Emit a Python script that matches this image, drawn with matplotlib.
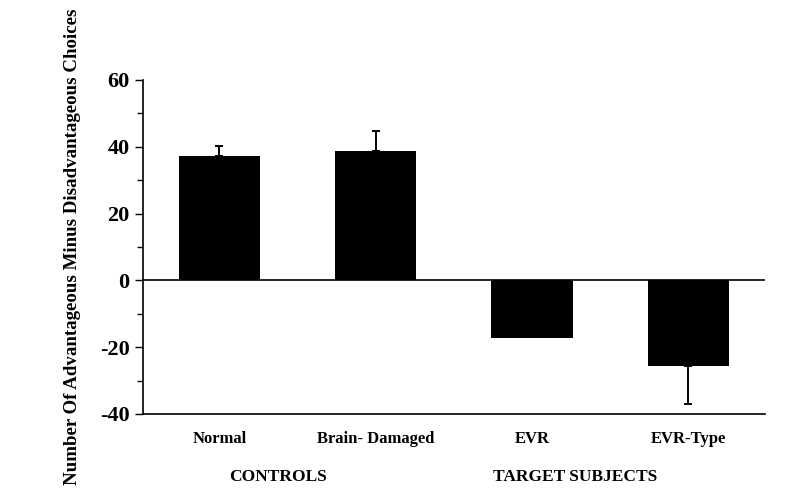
import numpy as np
import matplotlib.pyplot as plt
from matplotlib.ticker import MultipleLocator

# data
groups = ['Normal', 'Brain- Damaged', 'EVR', 'EVR-Type']
means = [37.3, 38.8, -17.3, -25.7]
errs = [3.0, 6.0, 0.0, 11.3]
group_labels = ['CONTROLS', 'TARGET SUBJECTS']

plt.rcParams['font.family'] = ['Liberation Serif', 'DejaVu Serif']
plt.rcParams['axes.unicode_minus'] = False

fig = plt.figure(figsize=(8.12, 5.03), dpi=100)
ax = fig.add_axes([0.176, 0.177, 0.766, 0.664])

x = np.arange(len(groups))
ax.bar(x, means, width=0.52, color='black', zorder=2)

# error bars only on the far side of each bar, skip empty ones
for xi, m, e in zip(x, means, errs):
    if e <= 0:
        continue
    lo, hi = (0, e) if m > 0 else (e, 0)
    ax.errorbar(xi, m, yerr=[[lo], [hi]], fmt='none', ecolor='black',
                elinewidth=1.4, capsize=3, capthick=1.4, zorder=3)

ax.axhline(0, color='black', lw=1.2, zorder=1)
ax.set_xlim(-0.49, 3.49)
ax.set_ylim(-40, 60)
ax.yaxis.set_major_locator(MultipleLocator(20))
ax.yaxis.set_minor_locator(MultipleLocator(10))
ax.tick_params(axis='y', which='major', length=6, width=1, direction='out')
ax.tick_params(axis='y', which='minor', length=4, width=1, direction='out')
for lab in ax.get_yticklabels():
    lab.set_fontweight('bold')
    lab.set_fontsize(16)

ax.set_xticks(x)
ax.set_xticklabels(groups, fontsize=12, fontweight='bold')
ax.tick_params(axis='x', length=0, pad=12)

ax.spines['top'].set_visible(False)
ax.spines['right'].set_visible(False)
ax.spines['left'].set_linewidth(1.2)
ax.spines['bottom'].set_linewidth(1.2)

ax.set_ylabel('Number Of Advantageous Minus Disadvantageous Choices',
              fontsize=13.6, fontweight='bold', labelpad=14)

fig.text(278 / 812, 1 - 477 / 503, group_labels[0], ha='center', va='center',
         fontsize=12.5, fontweight='bold')
fig.text(575 / 812, 1 - 477 / 503, group_labels[1], ha='center', va='center',
         fontsize=12.5, fontweight='bold')

fig.savefig('out.png', dpi=100)
